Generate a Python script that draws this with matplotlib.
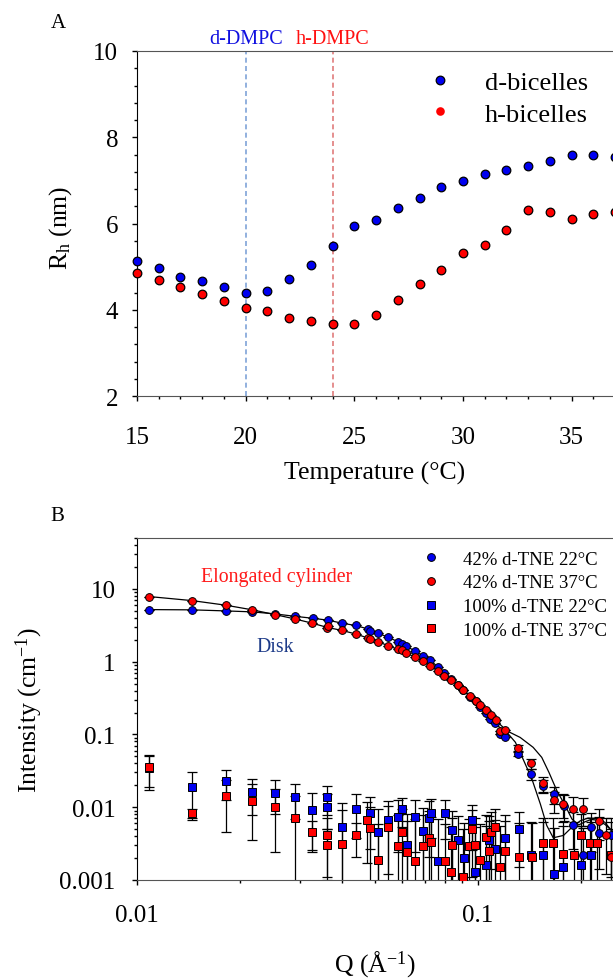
import numpy as np
import matplotlib
matplotlib.use("Agg")
import matplotlib.pyplot as plt
from matplotlib.ticker import MultipleLocator, LogLocator, NullFormatter, FixedLocator, FixedFormatter

plt.rcParams['font.family'] = ['Liberation Serif', 'DejaVu Serif']
plt.rcParams['mathtext.fontset'] = 'custom'
plt.rcParams['mathtext.rm'] = 'Liberation Serif'
plt.rcParams['mathtext.it'] = 'Liberation Serif:italic'

# ---- panel A: hydrodynamic radius vs temperature
temp = [15, 16, 17, 18, 19, 20, 21, 22, 23, 24, 25, 26, 27, 28, 29, 30, 31, 32, 33, 34, 35, 36, 37]
rh_d = [5.13, 4.96, 4.76, 4.66, 4.52, 4.40, 4.44, 4.71, 5.04, 5.48, 5.95, 6.08, 6.37, 6.58,
        6.84, 6.98, 7.15, 7.23, 7.33, 7.46, 7.59, 7.59, 7.55]
rh_h = [4.86, 4.68, 4.53, 4.36, 4.21, 4.05, 3.97, 3.82, 3.74, 3.68, 3.68, 3.87, 4.22, 4.59,
        4.92, 5.31, 5.49, 5.85, 6.32, 6.26, 6.10, 6.23, 6.27]
tm_d = 20
tm_h = 24

# ---- panel B: SANS curves
q_42_22 = [0.01086, 0.0145, 0.01819, 0.02177, 0.02538, 0.02905, 0.03272, 0.0364, 0.0400, 0.0438,
           0.0475, 0.0482, 0.0509, 0.0545, 0.0581, 0.0599, 0.0617, 0.0654, 0.0689, 0.0724, 0.0762,
           0.0797, 0.0836, 0.0873, 0.0907, 0.0949, 0.0984, 0.1017, 0.1055, 0.1085, 0.1120, 0.1157,
           0.1199, 0.1315, 0.1432, 0.155, 0.1672, 0.1783, 0.1905, 0.2028, 0.2145, 0.227, 0.246]
i_42_22 = [5.19, 5.15, 4.98, 4.83, 4.53, 4.20, 3.95, 3.71, 3.37, 3.14,
           2.82, 2.67, 2.46, 2.17, 1.89, 1.75, 1.64, 1.39, 1.21, 1.05, 0.85,
           0.70, 0.578, 0.478, 0.404, 0.33, 0.285, 0.241, 0.195, 0.163, 0.142, 0.101,
           0.091, 0.054, 0.029, 0.0195, 0.0151, 0.0105, 0.0057, 0.0022, 0.0054, 0.0044, 0.0041]
e_42_22 = [0] * 33 + [0.004, 0.005, 0.004, 0.004, 0.004, 0.003, 0.003, 0.003, 0.003, 0.003]

q_42_37 = [0.01086, 0.0145, 0.0182, 0.0218, 0.0254, 0.029, 0.0327, 0.0362, 0.0364, 0.040, 0.0438,
           0.0475, 0.0482, 0.0509, 0.0545, 0.0581, 0.0599, 0.0617, 0.0654, 0.0689, 0.0724, 0.0762,
           0.0797, 0.0836, 0.0873, 0.0907, 0.0949, 0.0984, 0.1017, 0.1055, 0.1095, 0.113, 0.1163,
           0.120, 0.1314, 0.143, 0.155, 0.167, 0.178, 0.190, 0.203, 0.227, 0.237, 0.246]
i_42_37 = [7.84, 6.90, 5.97, 5.15, 4.43, 3.87, 3.37, 2.91, 3.10, 2.73, 2.40,
           2.12, 2.08, 1.88, 1.66, 1.50, 1.45, 1.30, 1.16, 1.01, 0.88, 0.75,
           0.64, 0.565, 0.48, 0.404, 0.34, 0.29, 0.256, 0.22, 0.185, 0.16, 0.112,
           0.115, 0.0645, 0.040, 0.0214, 0.0124, 0.0110, 0.0096, 0.0095, 0.0065, 0.0042, 0.0021]
e_42_37 = [0] * 34 + [0.006, 0.006, 0.005, 0.004, 0.004, 0.004, 0.004, 0.003, 0.003, 0.003]

q_100_22 = [0.01086, 0.0145, 0.0182, 0.0218, 0.0254, 0.029, 0.0327, 0.0362, 0.0360, 0.040,
            0.0438, 0.0481, 0.0509, 0.0546, 0.0583, 0.0599, 0.0618, 0.0654, 0.0691, 0.0719,
            0.0728, 0.0764, 0.0800, 0.0842, 0.0873, 0.0909, 0.0962, 0.0982, 0.1058, 0.1079,
            0.1124, 0.1199, 0.1316, 0.143, 0.155, 0.167, 0.178, 0.201, 0.215]
i_100_22 = [0.0342, 0.0187, 0.0226, 0.0163, 0.0157, 0.0137, 0.0091, 0.0138, 0.0100, 0.0053,
            0.0094, 0.0082, 0.0046, 0.0067, 0.0074, 0.0094, 0.0030, 0.0074, 0.0047, 0.0071,
            0.0083, 0.0018, 0.0082, 0.0048, 0.0035, 0.0020, 0.0066, 0.0013, 0.0016, 0.0035,
            0.0027, 0.0038, 0.0050, 0.0022, 0.0022, 0.0012, 0.0015, 0.0016, 0.0022]
e_100_22 = [0.017, 0.012, 0.010, 0.0085, 0.0076, 0.0069, 0.0067, 0.006, 0.005, 0.006,
            0.0056, 0.0055, 0.005, 0.0055, 0.005, 0.004, 0.005, 0.005, 0.005, 0.005,
            0.0045, 0.005, 0.0045, 0.004, 0.004, 0.004, 0.004, 0.004, 0.004, 0.004,
            0.004, 0.004, 0.0035, 0.004, 0.004, 0.004, 0.004, 0.004, 0.004]

q_100_37 = [0.01086, 0.0145, 0.0182, 0.0218, 0.0254, 0.029, 0.0327, 0.0362, 0.0360, 0.040,
            0.0438, 0.0472, 0.0481, 0.0509, 0.0546, 0.0583, 0.0599, 0.0618, 0.0654, 0.0691,
            0.0719, 0.0728, 0.0800, 0.0838, 0.0834, 0.0907, 0.0940, 0.0962, 0.0982, 0.1016,
            0.1055, 0.1077, 0.1092, 0.1124, 0.1163, 0.1199, 0.1316, 0.144, 0.155, 0.166,
            0.178, 0.191, 0.201, 0.213, 0.223, 0.246]
i_100_37 = [0.0358, 0.0084, 0.0141, 0.0122, 0.0101, 0.0072, 0.0045, 0.0041, 0.0030, 0.0031,
            0.0041, 0.0067, 0.0052, 0.0019, 0.0054, 0.0029, 0.0046, 0.0024, 0.0018, 0.0029,
            0.0038, 0.0033, 0.0018, 0.0030, 0.0013, 0.0011, 0.0029, 0.0051, 0.0030, 0.0019,
            0.0039, 0.0025, 0.0046, 0.0054, 0.0015, 0.0025, 0.0021, 0.0021, 0.0032, 0.0032,
            0.0023, 0.0022, 0.0041, 0.0032, 0.0032, 0.0022]
e_100_37 = [0.017, 0.0012, 0.0095, 0.0086, 0.0077, 0.0069, 0.0019, 0.003, 0.002, 0.006,
            0.002, 0.005, 0.005, 0.004, 0.005, 0.005, 0.005, 0.004, 0.005, 0.005,
            0.005, 0.004, 0.004, 0.004, 0.004, 0.004, 0.004, 0.004, 0.004, 0.004,
            0.004, 0.004, 0.004, 0.004, 0.004, 0.004, 0.004, 0.004, 0.004, 0.004,
            0.004, 0.004, 0.004, 0.004, 0.004, 0.004]

# model fits
q_cyl = [0.01086, 0.0145, 0.0182, 0.0218, 0.0254, 0.029, 0.0327, 0.0362, 0.040, 0.0438, 0.0475,
         0.0509, 0.0545, 0.0581, 0.0617, 0.0654, 0.0689, 0.0724, 0.0762, 0.0797, 0.0836, 0.0873,
         0.0907, 0.0949, 0.0984, 0.1017, 0.1055, 0.1095, 0.113, 0.1216, 0.133, 0.1452, 0.1539,
         0.1616, 0.1705, 0.1804, 0.1886, 0.1975, 0.206, 0.215, 0.225, 0.236, 0.249]
i_cyl = [7.84, 6.90, 5.97, 5.15, 4.43, 3.87, 3.37, 2.95, 2.68, 2.40, 2.12,
         1.88, 1.66, 1.48, 1.30, 1.16, 1.01, 0.88, 0.75, 0.64, 0.555, 0.475,
         0.40, 0.335, 0.29, 0.252, 0.215, 0.182, 0.155, 0.112, 0.091, 0.0665, 0.0484,
         0.030, 0.0168, 0.0105, 0.0069, 0.0057, 0.0063, 0.0068, 0.0066, 0.0058, 0.0046]
q_disk = [0.01086, 0.0145, 0.0182, 0.0218, 0.0254, 0.029, 0.0327, 0.0364, 0.040, 0.0438, 0.0475,
          0.0509, 0.0545, 0.0581, 0.0617, 0.0654, 0.0689, 0.0724, 0.0762, 0.0797, 0.0836, 0.0873,
          0.0907, 0.0949, 0.0984, 0.1017, 0.1055, 0.1085, 0.112, 0.1216, 0.1288, 0.1356, 0.144,
          0.1525, 0.1592, 0.1663, 0.1783, 0.1886, 0.1996, 0.2103, 0.2236, 0.2358, 0.249]
i_disk = [5.19, 5.15, 4.98, 4.83, 4.53, 4.20, 3.95, 3.71, 3.37, 3.14, 2.82,
          2.46, 2.17, 1.89, 1.64, 1.39, 1.21, 1.05, 0.85, 0.70, 0.578, 0.478,
          0.404, 0.33, 0.285, 0.241, 0.195, 0.163, 0.14, 0.107, 0.078, 0.046, 0.0244,
          0.011, 0.0056, 0.0038, 0.0041, 0.0053, 0.0065, 0.0071, 0.0070, 0.0062, 0.0045]

BLUE = '#0000f0'
RED = '#ff0000'
W, H = 613, 979

fig = plt.figure(figsize=(W / 100, H / 100), dpi=100)

# ================= panel A
axA = fig.add_axes([137 / W, 1 - 397 / H, 1 - 137 / W, (397 - 52) / H])
axA.axvline(tm_d, color='#7fa3d8', ls='--', lw=1.2, dashes=(3, 2), zorder=1)
axA.axvline(tm_h, color='#e07b7b', ls='--', lw=1.2, dashes=(3, 2), zorder=1)
axA.plot(temp, rh_d, 'o', ms=6.2, mfc=BLUE, mec='black', mew=0.9, label='d-bicelles', zorder=3, clip_on=False)
axA.plot(temp, rh_h, 'o', ms=6.2, mfc=RED, mec='black', mew=0.9, label='h-bicelles', zorder=3, clip_on=False)
axA.set_xlim(15, 36.9)
axA.set_ylim(2, 10)
axA.xaxis.set_major_locator(MultipleLocator(5))
axA.xaxis.set_minor_locator(MultipleLocator(1))
axA.yaxis.set_major_locator(MultipleLocator(2))
axA.yaxis.set_minor_locator(MultipleLocator(0.4))
axA.tick_params(which='both', direction='out', labelsize=18, top=False, right=False, width=1)
axA.tick_params(which='major', length=3.5)
axA.tick_params(which='minor', length=2)
axA.tick_params(axis='x', which='major', pad=18)
axA.tick_params(axis='y', which='major', pad=10)
axA.spines['right'].set_visible(False)
for s in ('top', 'bottom'):
    axA.spines[s].set_color('#555555')
axA.set_xlabel('Temperature (°C)', fontsize=18.5)
axA.xaxis.set_label_coords(0.5, (397 - 473) / 345)
axA.xaxis.label.set_va('center')
axA.set_ylabel(r'R$_\mathrm{h}$ (nm)', fontsize=18.5)
axA.yaxis.set_label_coords((61 - 137) / 476, 0.49)
axA.yaxis.label.set_va('center')
axA.text(tm_d, 10.3, 'd-DMPC', color='#1010e0', fontsize=14.5, ha='center', va='center')
axA.text(tm_h, 10.3, 'h-DMPC', color='#ff1010', fontsize=14.5, ha='center', va='center')
legA = axA.legend(loc='upper left', bbox_to_anchor=(0.609, 0.942), frameon=False, fontsize=19,
                  handlelength=1.0, handletextpad=1.2, labelspacing=0.29, borderpad=0, borderaxespad=0,
                  numpoints=1)
legA.legend_handles[1].set_markeredgecolor('none')
fig.text(58 / W, 1 - 23 / H, 'A', fontsize=15, ha='center', va='center')

# ================= panel B
axB = fig.add_axes([137 / W, 1 - 881 / H, 1 - 137 / W, (881 - 539) / H])
axB.set_xscale('log')
axB.set_yscale('log')

eb_kw = dict(fmt='none', ecolor='black', elinewidth=0.9, capsize=3.4, capthick=0.9, zorder=2)
axB.errorbar(q_100_22, i_100_22, yerr=e_100_22, **eb_kw)
axB.errorbar(q_100_37, i_100_37, yerr=e_100_37, **eb_kw)
axB.errorbar(q_42_22, i_42_22, yerr=e_42_22, **eb_kw)
axB.errorbar(q_42_37, i_42_37, yerr=e_42_37, **eb_kw)
axB.plot(q_100_22, i_100_22, 's', ms=5.2, mfc=BLUE, mec='black', mew=0.7, zorder=3, label='100% d-TNE 22°C')
axB.plot(q_100_37, i_100_37, 's', ms=5.2, mfc=RED, mec='black', mew=0.7, zorder=3, label='100% d-TNE 37°C')
axB.plot(q_cyl, i_cyl, '-', color='black', lw=0.9, zorder=4)
axB.plot(q_disk, i_disk, '-', color='black', lw=0.9, zorder=4)
axB.plot(q_42_22, i_42_22, 'o', ms=5.6, mfc=BLUE, mec='black', mew=0.7, zorder=5, label='42% d-TNE 22°C')
axB.plot(q_42_37, i_42_37, 'o', ms=5.6, mfc=RED, mec='black', mew=0.7, zorder=5, label='42% d-TNE 37°C')

axB.set_xlim(0.01, 0.249)
axB.set_ylim(0.001, 50)
axB.yaxis.set_major_locator(FixedLocator([0.001, 0.01, 0.1, 1, 10]))
axB.yaxis.set_major_formatter(FixedFormatter(['0.001', '0.01', '0.1', '1', '10']))
axB.yaxis.set_minor_locator(LogLocator(base=10, subs=np.arange(2, 10), numticks=20))
axB.yaxis.set_minor_formatter(NullFormatter())
axB.xaxis.set_major_locator(FixedLocator([0.01, 0.1]))
axB.xaxis.set_major_formatter(FixedFormatter(['0.01', '0.1']))
axB.xaxis.set_minor_locator(LogLocator(base=10, subs=np.arange(2, 10), numticks=20))
axB.xaxis.set_minor_formatter(NullFormatter())
axB.tick_params(which='both', direction='out', labelsize=18, top=False, right=False, width=1)
axB.tick_params(which='major', length=3.5)
axB.tick_params(which='minor', length=2)
axB.tick_params(axis='x', which='major', pad=14)
axB.tick_params(axis='y', which='major', pad=12)
axB.spines['right'].set_visible(False)
for s in ('top', 'bottom'):
    axB.spines[s].set_color('#555555')
axB.set_xlabel(r'Q (Å$^{-1}$)', fontsize=18.5)
axB.xaxis.set_label_coords(0.5, (881 - 965) / 342)
axB.xaxis.label.set_va('center')
axB.set_ylabel(r'Intensity (cm$^{-1}$)', fontsize=18.5)
axB.yaxis.set_label_coords((29 - 137) / 476, 0.5)
axB.yaxis.label.set_va('center')

axB.text((276.6 - 137) / 476, (881 - 577.7) / 342, 'Elongated cylinder', color='#ff1a1a',
         fontsize=14.3, ha='center', va='center', transform=axB.transAxes)
axB.text((275.7 - 137) / 476, (881 - 647.3) / 342, 'Disk', color='#1c3a88',
         fontsize=14.3, ha='center', va='center', transform=axB.transAxes)

h, l = axB.get_legend_handles_labels()
order = [2, 3, 0, 1]
axB.legend([h[k] for k in order], [l[k] for k in order], loc='upper left',
           bbox_to_anchor=(0.598, 0.963), frameon=False, fontsize=13.5, handlelength=1.0,
           handletextpad=1.18, labelspacing=0.35, borderpad=0, borderaxespad=0, numpoints=1)
fig.text(57 / W, 1 - 517 / H, 'B', fontsize=15, ha='center', va='center')

fig.savefig('out.png', dpi=100)
